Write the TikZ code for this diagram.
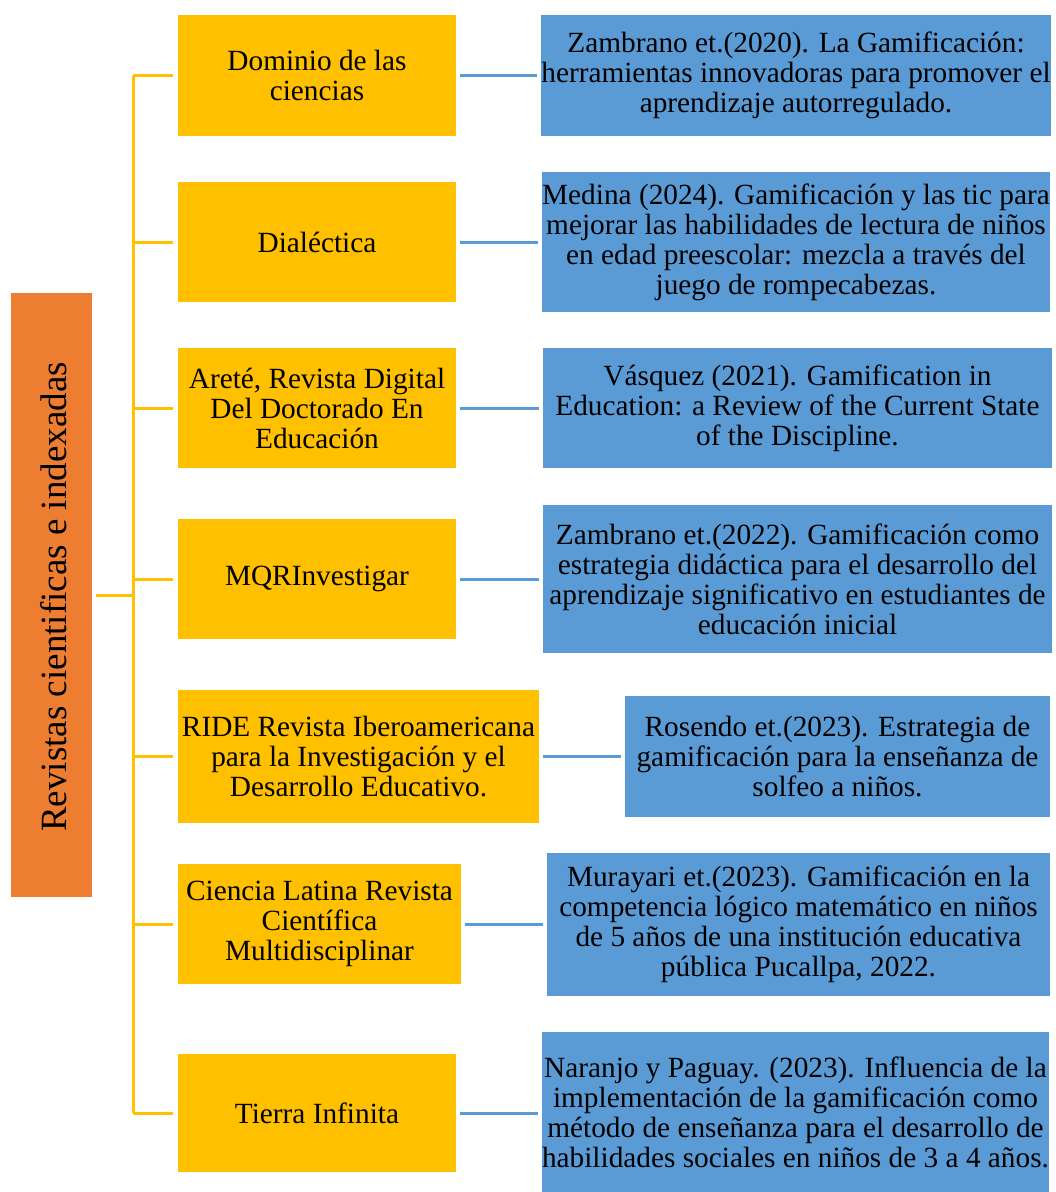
\documentclass[tikz,border=0pt]{standalone}
\usepackage{fontspec}
\setmainfont{Liberation Serif}
\definecolor{cyel}{HTML}{FFC000}
\definecolor{cblu}{HTML}{5B9BD5}
\definecolor{corg}{HTML}{ED7D31}
\begin{document}
\begin{tikzpicture}[x=1pt,y=-1pt,
  txt/.style={font=\fontsize{29.3}{30}\selectfont, align=center, inner sep=0pt, text=black},
  ybox/.style={txt, fill=cyel},
  bbox/.style={txt, fill=cblu},
  obox/.style={txt, fill=corg},
  yline/.style={draw=cyel, line width=3pt},
  bline/.style={draw=cblu, line width=3pt}]
\useasboundingbox (0,0) rectangle (1056,1192);
\fill[white] (0,0) rectangle (1056,1192);
% orange
\node[obox, minimum width=81pt, minimum height=604pt] (org) at (51.5,595) {};
\node[txt, font=\fontsize{37}{40}\selectfont, rotate=90] (orgt) at (54,597) {Revistas cientificas e indexadas};
% yellow
\node[ybox, minimum width=278pt, minimum height=121pt] (y1) at (317,75.5) {Dominio de las\\ciencias};
\node[ybox, minimum width=278pt, minimum height=120pt] (y2) at (317,242) {Dialéctica};
\node[ybox, minimum width=278pt, minimum height=120pt] (y3) at (317,408) {Areté, Revista Digital\\Del Doctorado En\\Educación};
\node[ybox, minimum width=278pt, minimum height=120pt] (y4) at (317,579) {MQRInvestigar};
\node[ybox, minimum width=361pt, minimum height=133pt] (y5) at (358.5,756.5) {RIDE Revista Iberoamericana\\para la Investigación y el\\Desarrollo Educativo.};
\node[ybox, minimum width=283pt, minimum height=120pt] (y6) at (319.5,924) {Ciencia Latina Revista\\Científica\\Multidisciplinar};
\node[ybox, minimum width=278pt, minimum height=118pt] (y7) at (317,1113) {Tierra Infinita};
% blue
\node[bbox, minimum width=508pt, minimum height=121pt] (b1) at (796,75.5) {Zambrano et.(2020). La Gamificación:\\herramientas innovadoras para promover el\\aprendizaje autorregulado.};
\node[bbox, minimum width=508pt, minimum height=140pt] (b2) at (796,242) {Medina (2024). Gamificación y las tic para\\mejorar las habilidades de lectura de niños\\en edad preescolar: mezcla a través del\\juego de rompecabezas.};
\node[bbox, minimum width=509pt, minimum height=120pt] (b3) at (797.5,408) {Vásquez (2021). Gamification in\\Education: a Review of the Current State\\of the Discipline.};
\node[bbox, minimum width=509pt, minimum height=148pt] (b4) at (797.5,579) {Zambrano et.(2022). Gamificación como\\estrategia didáctica para el desarrollo del\\aprendizaje significativo en estudiantes de\\educación inicial};
\node[bbox, minimum width=425pt, minimum height=121pt] (b5) at (837.5,756.5) {Rosendo et.(2023). Estrategia de\\gamificación para la enseñanza de\\solfeo a niños.};
\node[bbox, minimum width=503pt, minimum height=143pt] (b6) at (798.5,924.5) {Murayari et.(2023). Gamificación en la\\competencia lógico matemático en niños\\de 5 años de una institución educativa\\pública Pucallpa, 2022.};
\node[bbox, minimum width=507pt, minimum height=160pt] (b7) at (795.5,1112) {Naranjo y Paguay. (2023). Influencia de la\\implementación de la gamificación como\\método de enseñanza para el desarrollo de\\habilidades sociales en niños de 3 a 4 años.};
% connectors
\coordinate (spine) at (133,595);
\draw[yline] ([xshift=4pt]org.east) -- (spine);
\draw[yline] (spine |- y1.west) -- (spine |- y7.west);
\foreach \i in {1,...,7}{
  \draw[yline] (spine |- y\i.west) -- ([xshift=-5pt]y\i.west);
  \draw[bline] ([xshift=4pt]y\i.east) -- ([xshift=-4pt]b\i.west |- y\i.east);
}
\end{tikzpicture}
\end{document}
